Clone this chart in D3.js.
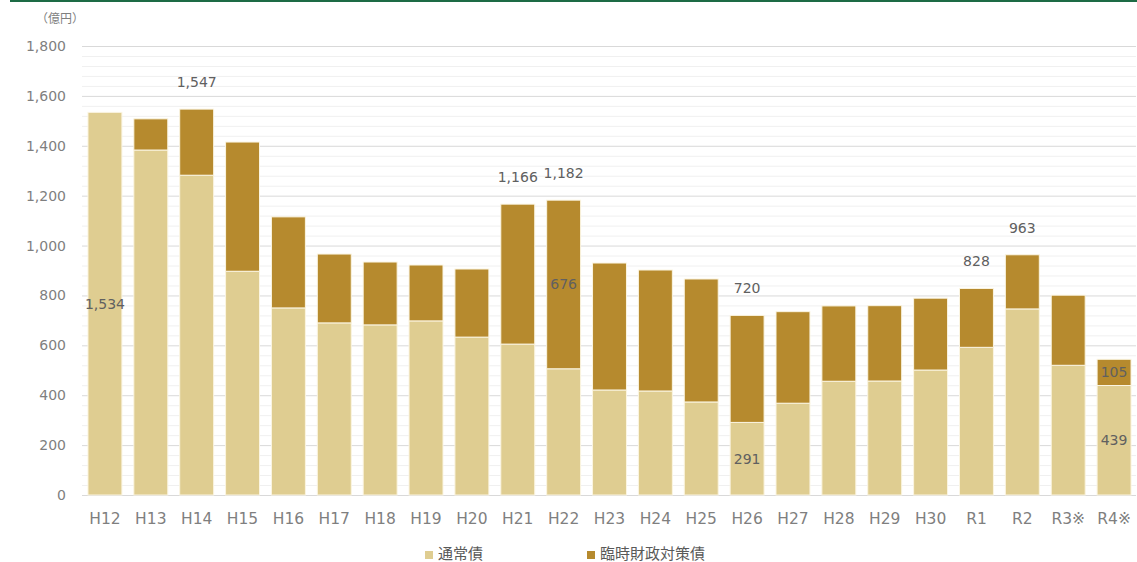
<!DOCTYPE html>
<html>
<head>
<meta charset="utf-8">
<script src="https://cdn.jsdelivr.net/npm/d3@7"></script>
<style>
  body { margin: 0; background: #fff; }
  svg { display: block; }
</style>
</head>
<body>
<div id="chart"></div>
<script>
// Fiscal years (Heisei / Reiwa)
const years = ["H12","H13","H14","H15","H16","H17","H18","H19","H20","H21","H22","H23","H24","H25","H26","H27","H28","H29","H30","R1","R2","R3※","R4※"];
// 通常債 (regular bonds), 億円
const regular = [1534,1383,1282,897,750,690,682,698,633,605,506,421,417,373,291,368,456,457,501,592,746,520,439];
// 臨時財政対策債 (extraordinary fiscal measures bonds), 億円
const special = [0,125,265,518,365,276,252,224,273,561,676,509,485,493,429,367,302,302,288,236,217,281,105];

const seriesNames = ["通常債", "臨時財政対策債"];
const colors = ["#dfcd91", "#b68a2e"];
const yTicks = [0,200,400,600,800,1000,1200,1400,1600,1800];

// which labels are shown
const totalLabels = ["H14","H21","H22","H26","R1","R2"];
const regularLabels = ["H12","H26","R4※"];
const specialLabels = ["H22","R4※"];

const width = 1137, height = 562;
const margin = { top: 46, right: 0, bottom: 67, left: 82 };

const data = years.map((y, i) => ({ year: y, regular: regular[i], special: special[i] }));

const svg = d3.select("#chart").append("svg")
    .attr("width", width)
    .attr("height", height)
    .attr("font-family", "'DejaVu Sans', Verdana, sans-serif");

// top rule
svg.append("rect")
    .attr("x", 10).attr("y", 0)
    .attr("width", width - 10).attr("height", 2)
    .attr("fill", "#1d6b45");

const x = d3.scaleBand()
    .domain(years)
    .range([margin.left, width - margin.right])
    .paddingInner(0.26)
    .paddingOuter(0.13);

const y = d3.scaleLinear()
    .domain([0, 1800])
    .range([height - margin.bottom, margin.top]);

// minor gridlines every 40
svg.append("g")
    .selectAll("line")
    .data(d3.range(0, 1801, 40).filter(v => v % 200 !== 0))
    .join("line")
    .attr("x1", margin.left).attr("x2", width - 1)
    .attr("y1", d => y(d) + 0.5).attr("y2", d => y(d) + 0.5)
    .attr("stroke", "#f0f0f0");

// major gridlines + tick labels
const yAxis = svg.append("g")
    .attr("transform", `translate(${margin.left},0)`)
    .call(d3.axisLeft(y).tickValues(yTicks).tickFormat(d3.format(",")).tickSize(0).tickPadding(16));
yAxis.select(".domain").remove();
yAxis.selectAll(".tick line")
    .attr("x2", width - 1 - margin.left)
    .attr("stroke", "#d9d9d9")
    .attr("stroke-width", 1);
yAxis.selectAll(".tick text")
    .attr("font-size", 14)
    .attr("fill", "#7f7f7f")
    .attr("font-family", "'DejaVu Sans', Verdana, sans-serif");

// unit label
svg.append("text")
    .attr("x", 36).attr("y", 23)
    .attr("font-size", 12)
    .attr("fill", "#7f7f7f")
    .attr("font-family", "'Noto Sans CJK JP', sans-serif")
    .text("（億円）");

// stacked bars
const stack = d3.stack().keys(["regular", "special"])(data);

svg.append("g")
    .selectAll("g")
    .data(stack)
    .join("g")
    .attr("fill", (d, i) => colors[i])
    .selectAll("rect")
    .data(d => d)
    .join("rect")
    .attr("x", d => x(d.data.year))
    .attr("width", x.bandwidth())
    .attr("y", d => y(d[1]))
    .attr("height", d => Math.max(0, y(d[0]) - y(d[1])))
    .attr("stroke", "#fbf5e2")
    .attr("stroke-width", 1);

// value labels
const labels = svg.append("g")
    .attr("font-size", 14)
    .attr("fill", "#606060")
    .attr("text-anchor", "middle");

labels.selectAll(".total")
    .data(data.filter(d => totalLabels.includes(d.year)))
    .join("text")
    .attr("x", d => x(d.year) + x.bandwidth() / 2)
    .attr("y", d => y(d.regular + d.special) - 27)
    .attr("dy", "0.35em")
    .text(d => d3.format(",")(d.regular + d.special));

labels.selectAll(".reg")
    .data(data.filter(d => regularLabels.includes(d.year)))
    .join("text")
    .attr("x", d => x(d.year) + x.bandwidth() / 2)
    .attr("y", d => y(d.regular / 2))
    .attr("dy", "0.35em")
    .text(d => d3.format(",")(d.regular));

labels.selectAll(".spc")
    .data(data.filter(d => specialLabels.includes(d.year)))
    .join("text")
    .attr("x", d => x(d.year) + x.bandwidth() / 2)
    .attr("y", d => y(d.regular + d.special / 2))
    .attr("dy", "0.35em")
    .text(d => d3.format(",")(d.special));

// x axis labels
const xAxis = svg.append("g")
    .attr("transform", `translate(0,${height - margin.bottom})`)
    .call(d3.axisBottom(x).tickSize(0).tickPadding(18));
xAxis.select(".domain").remove();
xAxis.selectAll(".tick text")
    .attr("font-size", 15.5)
    .attr("fill", "#7f7f7f")
    .attr("font-family", "'DejaVu Sans', Verdana, 'Noto Sans CJK JP', sans-serif");

// legend
const legendX = [425, 587];
const legend = svg.append("g")
    .selectAll("g")
    .data(seriesNames)
    .join("g")
    .attr("transform", (d, i) => `translate(${legendX[i]},554)`);
legend.append("rect")
    .attr("x", 0).attr("y", -3)
    .attr("width", 8).attr("height", 8)
    .attr("fill", (d, i) => colors[i]);
legend.append("text")
    .attr("x", 13).attr("y", 0)
    .attr("dy", "0.35em")
    .attr("font-size", 15)
    .attr("fill", "#595959")
    .attr("font-family", "'Noto Sans CJK JP', sans-serif")
    .text(d => d);
</script>
</body>
</html>
